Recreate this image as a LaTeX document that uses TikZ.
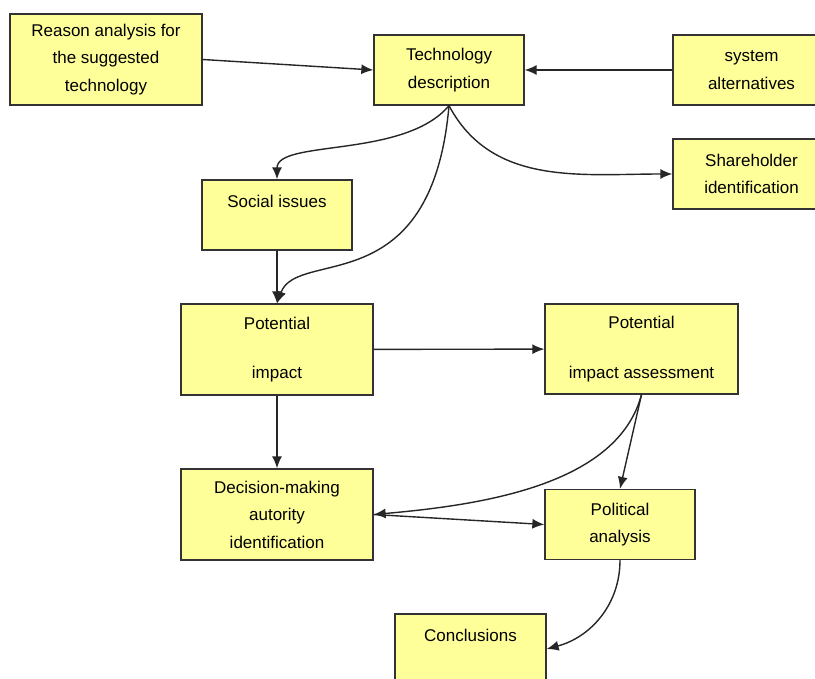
\documentclass[tikz,border=0pt]{standalone}
\usepackage{xcolor}
\usepackage{fontspec}
\setmainfont{Liberation Sans}
\usepackage{tikz}
\usetikzlibrary{positioning}
\usetikzlibrary{shapes,arrows.meta}
\definecolor{boxyellow}{RGB}{255,255,153}
\tikzstyle{block} = [rectangle, draw=black!80, line width=1.3pt, fill=boxyellow,
text centered, align=center, inner sep=0pt, font=\fontsize{17pt}{27.5pt}\selectfont]
\tikzstyle{bigblock} = [block, minimum width=192pt, minimum height=91pt]
\tikzstyle{smallblock} = [block, minimum width=150pt, minimum height=70pt]
\tikzstyle{line} = [draw, line width=1.4pt, black!85, -{Latex[length=12pt,width=10pt]}]

\begin{document}
\begin{tikzpicture}[x=1pt, y=1pt]
    \fill [white] (0,0) rectangle (815,-679);
    \useasboundingbox (0,0) rectangle (815,-679);

    % nodes
    \node [bigblock] (reason) at (106,-59.5) {Reason analysis for\\the suggested\\technology};
    \node [smallblock] (techdesc) at (449,-70) {Technology\\description};
    \node [smallblock, minimum width=157pt] (sysalt) at (751.5,-70) {system\\alternatives};
    \node [smallblock, minimum width=157pt] (sharehold) at (751.5,-174) {Shareholder\\identification};
    \node [smallblock] (social) at (277,-215) {Social issues\\\mbox{}};
    \node [bigblock] (potimp) at (277,-349.5) {Potential\\[22pt]impact};
    \node [bigblock, minimum width=193pt, minimum height=90pt] (potassess) at (641.5,-349) {Potential\\[22pt]impact assessment};
    \node [bigblock] (decision) at (277,-514.5) {Decision-making\\autority\\identification};
    \node [smallblock] (political) at (620,-524.5) {Political\\analysis};
    \node [smallblock, minimum width=151pt] (concl) at (470.5,-649) {Conclusions\\\mbox{}};

    % edges
    \path [line] (reason.east) -- (techdesc.west);
    \path [line] (sysalt.west) -- (techdesc.east);
    \draw [line] (techdesc.south) to[out=-130, in=90, out looseness=0.95, in looseness=0.55] (social.north);
    \draw [line] (techdesc.south) to[out=-62, in=180] (sharehold.west);
    \draw [line] (techdesc.south) to[out=-95, in=70, out looseness=1.94, in looseness=0.58] (potimp.north);
    \path [line] (social) -- (potimp);
    \path [line] (potimp) -- (potassess);
    \path [line] (potimp) -- (decision);
    \path [line] (potassess.south) -- (political.north);
    \draw [line] (potassess.south) to[out=-105, in=5, out looseness=0.8] (decision.east);
    \path [line] (decision.east) -- (political.west);
    \draw [line] (political.south) to[out=-90, in=15] (concl.east);

\end{tikzpicture}
\end{document}
